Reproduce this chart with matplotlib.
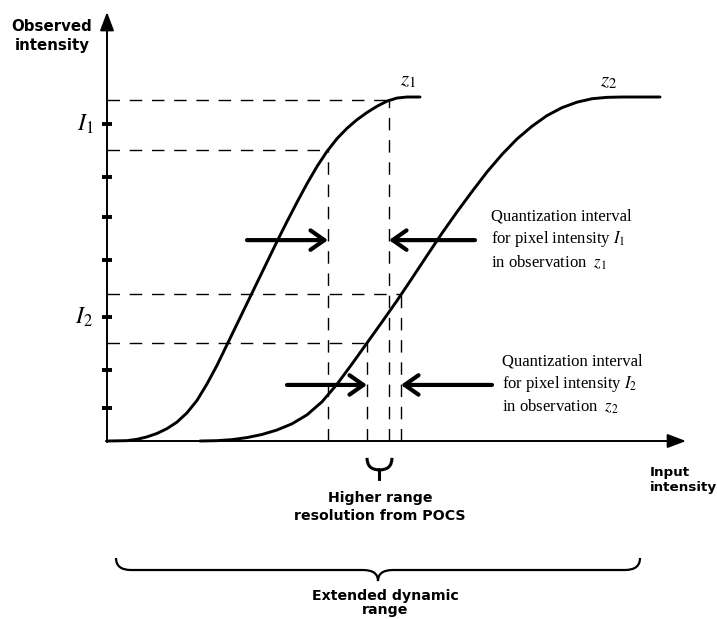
import numpy as np
import matplotlib.pyplot as plt
from matplotlib.path import Path
from matplotlib.patches import PathPatch

plt.rcParams['mathtext.fontset'] = 'stix'

# response curves: input intensity vs observed intensity (% of saturation)
z1_x = [0, 4, 6, 8, 10, 12, 14, 16, 18, 20, 22, 24, 26, 28, 30, 32, 34, 36, 38,
        40, 42, 44, 46, 48, 50, 52, 54, 56, 58, 60, 62.6]
z1_y = [0, 0.1, 0.5, 1.2, 2.2, 3.6, 5.5, 8.2, 11.8, 16.6, 22.0, 28.0, 34.0, 40.0,
        46.0, 52.0, 58.0, 63.8, 69.4, 74.8, 79.8, 84.2, 87.9, 90.9, 93.4, 95.5,
        97.3, 98.8, 99.7, 100, 100]
z2_x = [18.6, 22, 25, 28, 31, 34, 37, 40, 43, 46, 49, 52, 55, 58, 61, 64, 67, 70,
        73, 76, 79, 82, 85, 88, 91, 94, 97, 100, 103, 110.6]
z2_y = [0, 0.1, 0.4, 1.0, 1.9, 3.2, 5.0, 7.6, 11.4, 16.5, 22.4, 28.5, 34.6, 40.8,
        47.3, 53.9, 60.4, 66.6, 72.5, 78.2, 83.3, 87.8, 91.5, 94.6, 96.9, 98.5,
        99.5, 99.9, 100, 100]

# quantization interval bounds (where the dashed guides meet the curves)
level_x = [56.4, 44.2, 58.8, 52.0]
level_y = [99.0, 84.6, 42.6, 28.5]

# tick marks on the observed-intensity axis
tick_y = [92.2, 76.7, 65.1, 52.6, 36.0, 20.6, 9.6]
I1_y = tick_y[0]
I2_y = tick_y[4]

# interval arrows: (tail x, head x, y)
arrows = [(28.0, level_x[1], 58.4), (73.6, level_x[0], 58.4),
          (36.0, level_x[3], 16.3), (77.0, level_x[2], 16.3)]

fig = plt.figure(figsize=(7.17, 6.19), dpi=100)
ax = fig.add_axes([0, 0, 1, 1])
ax.set_xlim(-21.4, 122.0)
ax.set_ylim(-51.74, 128.2)
ax.axis('off')

# axes with arrow heads
axis_style = dict(arrowstyle='-|>,head_length=0.45,head_width=0.17', lw=1.4,
                  color='k', mutation_scale=25, shrinkA=0, shrinkB=0)
ax.annotate('', xy=(0, 124.7), xytext=(0, -0.3), arrowprops=axis_style)
ax.annotate('', xy=(115.8, 0), xytext=(-0.2, 0), arrowprops=axis_style)

ax.plot(np.zeros(len(tick_y)), tick_y, ls='none', marker='_', ms=7.5, mew=2.8, color='k')

# dashed guides
for lx, ly in zip(level_x, level_y):
    ax.plot([0, lx], [ly, ly], color='k', lw=1.0, ls=(0, (9, 7)))
    ax.plot([lx, lx], [0, ly], color='k', lw=1.0, ls=(0, (9, 7)))

ax.plot(z1_x, z1_y, color='k', lw=2.1, solid_capstyle='round', solid_joinstyle='round')
ax.plot(z2_x, z2_y, color='k', lw=2.1, solid_capstyle='round', solid_joinstyle='round')

for x0, x1, y in arrows:
    ax.annotate('', xy=(x1, y), xytext=(x0, y),
                arrowprops=dict(arrowstyle='->,head_length=0.5,head_width=0.35',
                                lw=3.0, color='k', mutation_scale=20,
                                shrinkA=0, shrinkB=0))

serif = 'Liberation Serif'
ax.text(-4.3, I1_y, r'$I_1$', fontsize=17, ha='center', va='center')
ax.text(-4.6, I2_y, r'$I_2$', fontsize=17, ha='center', va='center')
ax.text(60.2, 104.9, r'$z_1$', fontsize=15, ha='center', va='center')
ax.text(100.4, 104.7, r'$z_2$', fontsize=15, ha='center', va='center')

ax.text(76.8, 58.4, 'Quantization interval\nfor pixel intensity $I_1$\nin observation  $z_1$',
        family=serif, fontsize=12, ha='left', va='center', linespacing=1.3)
ax.text(79.0, 16.3, 'Quantization interval\nfor pixel intensity $I_2$\nin observation  $z_2$',
        family=serif, fontsize=12, ha='left', va='center', linespacing=1.3)

bold = dict(family='DejaVu Sans', weight='bold', ha='center', va='center')
ax.text(-11.0, 117.7, 'Observed\nintensity', fontsize=10.8, linespacing=1.35, **bold)
ax.text(108.6, -11.3, 'Input\nintensity', fontsize=9.7, linespacing=1.15,
        family='DejaVu Sans', weight='bold', ha='left', va='center')
ax.text(54.6, -19.2, 'Higher range\nresolution from POCS', fontsize=10.2, linespacing=1.3, **bold)
ax.text(55.6, -51.2, 'Extended dynamic\nrange', fontsize=10.2, linespacing=1.05,
        family='DejaVu Sans', weight='bold', ha='center', va='bottom')


def big_brace(x0, x1, ytop, ymid, ytip, d):
    xc = (x0 + x1) / 2
    verts = [(x0, ytop), (x0, ymid), (x0 + d, ymid), (xc - d, ymid), (xc, ymid), (xc, ytip),
             (xc, ymid), (xc + d, ymid), (x1 - d, ymid), (x1, ymid), (x1, ytop)]
    codes = [Path.MOVETO, Path.CURVE3, Path.CURVE3, Path.LINETO, Path.CURVE3, Path.CURVE3,
             Path.CURVE3, Path.CURVE3, Path.LINETO, Path.CURVE3, Path.CURVE3]
    return Path(verts, codes)


def small_brace(x0, x1, ytop, ymid, ytip):
    xc = (x0 + x1) / 2
    verts = [(x0, ytop), (x0, ymid), (xc, ymid),
             (x1, ytop), (x1, ymid), (xc, ymid), (xc, ytip)]
    codes = [Path.MOVETO, Path.CURVE3, Path.CURVE3,
             Path.MOVETO, Path.CURVE3, Path.CURVE3, Path.LINETO]
    return Path(verts, codes)


ax.add_patch(PathPatch(big_brace(1.8, 106.6, -34.0, -37.5, -40.7, 3.0),
                       fill=False, lw=1.6, color='k'))
ax.add_patch(PathPatch(small_brace(level_x[3], 57.0, -4.9, -8.4, -11.6),
                       fill=False, lw=2.2, color='k'))

fig.savefig('out.png', dpi=100)
